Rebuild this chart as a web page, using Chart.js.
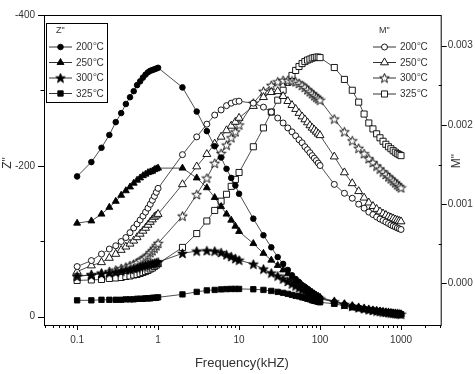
<!DOCTYPE html>
<html>
<head>
<meta charset="utf-8">
<script src="https://cdn.jsdelivr.net/npm/chart.js@4.4.0/dist/chart.umd.min.js"></script>
<style>
  html, body { margin: 0; padding: 0; background: #fff; }
  #wrap { width: 475px; height: 374px; position: relative; }
</style>
</head>
<body>
<div id="wrap"><canvas id="chart"></canvas></div>
<script>
// frequency sweep (kHz)
const freq = [0.1,0.15,0.2,0.25,0.3,0.35,0.4,0.45,0.5,0.55,0.6,0.65,0.7,0.75,0.8,0.85,0.9,0.95,1,
  2,3,4,5,6,7,8,9,10,
  15,20,25,30,35,40,45,50,55,60,65,70,75,80,85,90,95,100,
  150,200,250,300,350,400,450,500,550,600,650,700,750,800,850,900,950,1000];

// Z'' (left axis)
const z200 = [-186,-205,-224,-241,-258,-270,-282,-291,-299,-307,-312,-317,-321,-324,-326,-327,-328,-329,-330,
  -304,-272,-246,-226,-211,-196,-184,-174,-163,
  -130,-108,-92,-79,-70,-62,-55,-50,-46,-42,-39.5,-37,-34,-32,-30,-28,-26,-25,
  -19.7,-16.4,-13.8,-11.8,-10.5,-9.2,-8.6,-7.9,-7.2,-6.6,-6.2,-5.8,-5.3,-5.0,-4.7,-4.5,-4.2,-3.9];
const z250 = [-124,-127,-136,-145,-153,-161,-167,-172,-177,-181,-184,-187,-189,-191,-192,-193,-195,-196,-197,
  -197,-184,-171,-158,-146,-136,-128,-120,-113,
  -97,-84,-75,-68,-62,-57,-52,-48,-45,-41.4,-38.8,-36.2,-34.2,-32.2,-30.3,-28.3,-27,-25.7,
  -20.4,-17.1,-14.5,-12.5,-11.2,-9.9,-8.9,-8.2,-7.5,-6.8,-6.3,-5.8,-5.3,-4.9,-4.5,-4.1,-3.7,-3.3];
const z300 = [-54,-55,-57,-58,-59,-60.5,-62,-62.5,-64,-64.5,-66,-67,-68,-69,-70,-70.4,-71,-71.7,-72.4,
  -84,-87,-87.5,-87,-85,-82,-79.6,-77,-75,
  -69.7,-63.2,-57.9,-53.9,-50,-46.7,-43.4,-40.8,-38.2,-36.2,-34.2,-32.2,-30.3,-28.9,-27.6,-26.3,-25,-23.7,
  -19.7,-16.4,-13.8,-11.8,-10.5,-9.2,-8.3,-7.5,-6.8,-6.2,-5.7,-5.3,-4.9,-4.5,-4.1,-3.8,-3.6,-3.3];
const z325 = [-21.7,-21.7,-22.4,-22.4,-22.4,-22.4,-23,-23,-23,-23.7,-23.7,-23.7,-24.3,-24.3,-24.3,-25,-25,-25,-25.7,
  -29.6,-32.9,-34.9,-35.5,-36.2,-36.6,-36.8,-36.8,-36.8,
  -36.4,-35.5,-34.2,-32.9,-31.6,-30.3,-28.9,-27.6,-27,-25.7,-25,-23.7,-23,-21.7,-21.1,-20.4,-19.7,-19.1,
  -17.1,-14.5,-12.5,-11.2,-9.9,-8.8,-7.9,-7.2,-6.6,-6.1,-5.5,-5.1,-4.7,-4.3,-3.9,-3.7,-3.4,-3.2];

// M'' (right axis)
const m200 = [0.000213,0.000288,0.000371,0.000434,0.000475,0.000529,0.000579,0.000641,0.0007,0.00075,0.0008,0.00085,0.0009,0.00095,0.001,0.00105,0.0011,0.00115,0.0012,
  0.001625,0.00185,0.00201,0.002125,0.00219,0.002244,0.002275,0.002294,0.0023,
  0.002275,0.002225,0.002163,0.002088,0.002025,0.001963,0.001913,0.001863,0.001813,0.001775,0.001725,0.001688,0.00165,0.001613,0.001581,0.00155,0.001519,0.001488,
  0.00125,0.001138,0.001075,0.001,0.00095,0.0009,0.000869,0.000838,0.000813,0.000794,0.000775,0.000756,0.000738,0.000725,0.000713,0.0007,0.00069,0.000681];
const m250 = [0.00015,0.000225,0.000266,0.000321,0.000371,0.000421,0.000463,0.0005,0.000538,0.000581,0.000625,0.000663,0.0007,0.000738,0.000775,0.000806,0.000838,0.000856,0.000875,
  0.00125,0.001475,0.001631,0.001763,0.00185,0.001931,0.001988,0.002038,0.002088,
  0.002238,0.00235,0.002413,0.002425,0.002363,0.0023,0.00225,0.0022,0.00215,0.002106,0.002069,0.002031,0.001994,0.001963,0.001938,0.001913,0.001888,0.001869,
  0.0016,0.0014,0.001263,0.001163,0.001081,0.001019,0.000975,0.000938,0.000906,0.000881,0.000863,0.000844,0.000831,0.000819,0.000806,0.000796,0.000788,0.000781];
const m300 = [0.0000875,0.000113,0.000131,0.00015,0.000169,0.000188,0.000206,0.000225,0.000244,0.000263,0.000288,0.000306,0.000331,0.000356,0.000388,0.000413,0.000444,0.000475,0.000506,
  0.00085,0.001121,0.001329,0.001516,0.001641,0.001746,0.001838,0.001913,0.002,
  0.002275,0.002425,0.0025,0.002544,0.002563,0.002563,0.002556,0.002544,0.002525,0.0025,0.002475,0.002444,0.002419,0.002394,0.002369,0.00235,0.002331,0.002313,
  0.002075,0.001913,0.0018,0.001706,0.001638,0.001575,0.001525,0.001481,0.001444,0.001406,0.001375,0.001344,0.001319,0.001294,0.001269,0.001244,0.001225,0.001206];
const m325 = [0.0000375,0.0000438,0.00005,0.0000625,0.0000688,0.000075,0.0000875,0.0000938,0.000106,0.000113,0.000125,0.000138,0.00015,0.000163,0.000181,0.000194,0.000213,0.000231,0.00025,
  0.000454,0.000629,0.000788,0.000921,0.001038,0.001125,0.001225,0.001313,0.0014,
  0.001725,0.001963,0.002163,0.002313,0.002438,0.002538,0.002625,0.002688,0.002738,0.002775,0.0028,0.002819,0.002831,0.002844,0.00285,0.002856,0.002856,0.00285,
  0.002725,0.002575,0.002438,0.002288,0.002138,0.002025,0.00195,0.001888,0.001838,0.001794,0.001756,0.001725,0.0017,0.001675,0.001656,0.001638,0.001625,0.001613];

const tempLabels = ["200", "250", "300", "325"];

// axis ticks
const xTicks = [0.1, 1, 10, 100, 1000];
const xTickLabels = ["0.1", "1", "10", "100", "1000"];
const xMinor = [0.04,0.05,0.06,0.07,0.08,0.09, 0.2,0.3,0.4,0.5,0.6,0.7,0.8,0.9,
  2,3,4,5,6,7,8,9, 20,30,40,50,60,70,80,90, 200,300,400,500,600,700,800,900, 2000,3000];
const yTicks = [-400, -200, 0];
const yTickLabels = ["-400", "-200", "0"];
const yMinor = [-300, -100];
const y1Ticks = [0, 0.001, 0.002, 0.003];
const y1TickLabels = ["0.000", "0.001", "0.002", "0.003"];
const y1Minor = [0.0005, 0.0015, 0.0025];

const FONT = "'Liberation Sans', Arial, sans-serif";
const TXT = "#333";
const LINE = "#222";

function makeStar(filled) {
  const c = document.createElement("canvas");
  c.width = 11; c.height = 11;
  const g = c.getContext("2d");
  g.beginPath();
  for (let i = 0; i < 10; i++) {
    const r = i % 2 ? 2.1 : 5;
    const a = -Math.PI / 2 + i * Math.PI / 5;
    g.lineTo(5.5 + r * Math.cos(a), 5.9 + r * Math.sin(a));
  }
  g.closePath();
  g.fillStyle = filled ? "#000" : "#fff";
  g.fill();
  g.lineWidth = 0.9;
  g.strokeStyle = "#000";
  g.stroke();
  return c;
}
const starFilled = makeStar(true);
const starOpen = makeStar(false);

function series(vals, axis, style, radius, filled) {
  return {
    data: freq.map((f, i) => ({ x: f, y: vals[i] })),
    yAxisID: axis,
    borderColor: LINE,
    borderWidth: 0.8,
    pointStyle: style,
    pointRadius: radius,
    pointBorderWidth: 0.9,
    pointBorderColor: "#000",
    pointBackgroundColor: filled ? "#000" : "#fff",
    tension: 0,
    _filled: filled,
  };
}

const zSets = [
  series(z200, "y", "circle", 2.8, true),
  series(z250, "y", "triangle", 4, true),
  series(z300, "y", starFilled, 4, true),
  series(z325, "y", "rect", 3.8, true),
];
const mSets = [
  series(m200, "y1", "circle", 3, false),
  series(m250, "y1", "triangle", 4.6, false),
  series(m300, "y1", starOpen, 4, false),
  series(m325, "y1", "rect", 4.3, false),
];

function marker(ctx, ds, x, y) {
  const st = ds.pointStyle, r = ds.pointRadius;
  if (st instanceof HTMLCanvasElement) {
    ctx.drawImage(st, x - st.width / 2, y - st.height / 2);
    return;
  }
  ctx.beginPath();
  if (st === "circle") {
    ctx.arc(x, y, r, 0, Math.PI * 2);
  } else if (st === "triangle") {
    for (let k = 0; k < 3; k++) {
      const a = k * 2 * Math.PI / 3;
      ctx.lineTo(x + Math.sin(a) * r, y - Math.cos(a) * r);
    }
    ctx.closePath();
  } else {
    const s = r * Math.SQRT1_2;
    ctx.rect(x - s, y - s, 2 * s, 2 * s);
  }
  ctx.fillStyle = ds._filled ? "#000" : "#fff";
  ctx.fill();
  ctx.lineWidth = 0.9;
  ctx.strokeStyle = "#000";
  ctx.stroke();
}

function tempText(ctx, t, x, y) {
  ctx.font = "10px " + FONT;
  ctx.fillText(t, x, y);
  let w = ctx.measureText(t).width;
  ctx.font = "6px " + FONT;
  ctx.fillText("o", x + w + 0.5, y - 4);
  w += ctx.measureText("o").width + 0.5;
  ctx.font = "10px " + FONT;
  ctx.fillText("C", x + w, y);
}

function legendBlock(ctx, title, sets, x0, titleX, rows) {
  ctx.fillStyle = TXT;
  ctx.textBaseline = "middle";
  ctx.textAlign = "left";
  ctx.font = "9px " + FONT;
  ctx.fillText(title, titleX, 31);
  sets.forEach((ds, i) => {
    const y = rows[i];
    ctx.strokeStyle = "#333";
    ctx.lineWidth = 1;
    ctx.beginPath();
    ctx.moveTo(x0, y); ctx.lineTo(x0 + 23, y);
    ctx.stroke();
    marker(ctx, ds, x0 + 11.5, y);
    ctx.fillStyle = TXT;
    tempText(ctx, tempLabels[i], x0 + 27, y + 0.5);
  });
}

const decor = {
  id: "decor",
  afterDraw(chart) {
    const ctx = chart.ctx, a = chart.chartArea;
    const sx = chart.scales.x, sy = chart.scales.y, sy1 = chart.scales.y1;
    ctx.save();
    ctx.strokeStyle = "#000";
    ctx.lineWidth = 1;
    ctx.strokeRect(a.left + 0.5, a.top + 0.5, a.right - a.left - 1, a.bottom - a.top);
    ctx.beginPath();
    xTicks.forEach(v => { const p = Math.round(sx.getPixelForValue(v)) + 0.5; ctx.moveTo(p, a.bottom); ctx.lineTo(p, a.bottom + 5); });
    xMinor.forEach(v => { const p = Math.round(sx.getPixelForValue(v)) + 0.5; ctx.moveTo(p, a.bottom); ctx.lineTo(p, a.bottom + 3); });
    yTicks.forEach(v => { const p = Math.round(sy.getPixelForValue(v)) + 0.5; ctx.moveTo(a.left, p); ctx.lineTo(a.left - 6, p); });
    yMinor.forEach(v => { const p = Math.round(sy.getPixelForValue(v)) + 0.5; ctx.moveTo(a.left, p); ctx.lineTo(a.left - 3.5, p); });
    y1Ticks.forEach(v => { const p = Math.round(sy1.getPixelForValue(v)) + 0.5; ctx.moveTo(a.right, p); ctx.lineTo(a.right + 5, p); });
    y1Minor.forEach(v => { const p = Math.round(sy1.getPixelForValue(v)) + 0.5; ctx.moveTo(a.right - 3, p); ctx.lineTo(a.right, p); });
    ctx.stroke();

    // axis titles
    ctx.fillStyle = TXT;
    ctx.textAlign = "center";
    ctx.textBaseline = "middle";
    ctx.font = "13px " + FONT;
    ctx.fillText("Frequency(kHZ)", (a.left + a.right) / 2 - 1, a.bottom + 38);
    ctx.font = "12px " + FONT;
    ctx.save();
    ctx.translate(8, 163);
    ctx.rotate(-Math.PI / 2);
    ctx.fillText('Z"', 0, 0);
    ctx.restore();
    ctx.save();
    ctx.translate(457, 161);
    ctx.rotate(-Math.PI / 2);
    ctx.fillText('M"', 0, 0);
    ctx.restore();

    // legends
    ctx.strokeStyle = "#000";
    ctx.lineWidth = 1;
    ctx.strokeRect(46.5, 23.5, 61, 79);
    legendBlock(ctx, 'Z"', zSets, 49, 56, [47, 62.5, 78, 93.5]);
    legendBlock(ctx, 'M"', mSets, 373, 379, [47, 62.5, 78, 94]);
    ctx.restore();
  }
};

new Chart(document.getElementById("chart"), {
  type: "line",
  data: { datasets: [...zSets, ...mSets] },
  options: {
    responsive: true,
    maintainAspectRatio: false,
    animation: false,
    devicePixelRatio: 1,
    layout: { padding: { top: 12, left: 0, right: 0, bottom: 0 } },
    plugins: { legend: { display: false }, tooltip: { enabled: false } },
    scales: {
      x: {
        type: "logarithmic",
        min: 0.039,
        max: 3180,
        grid: { display: false, drawTicks: false },
        border: { display: false },
        afterBuildTicks: s => { s.ticks = xTicks.map(v => ({ value: v })); },
        afterFit: s => { s.height = 49; },
        ticks: {
          autoSkip: false, maxRotation: 0, padding: 9, color: TXT,
          font: { family: FONT, size: 10 },
          callback: v => { const i = xTicks.indexOf(v); return i < 0 ? "" : xTickLabels[i]; },
        },
      },
      y: {
        type: "linear",
        position: "left",
        reverse: true,
        min: -400,
        max: 11,
        grid: { display: false, drawTicks: false },
        border: { display: false },
        afterBuildTicks: s => { s.ticks = yTicks.map(v => ({ value: v })); },
        afterFit: s => { s.width = 44; },
        ticks: {
          padding: 9, color: TXT, font: { family: FONT, size: 10 },
          callback: v => { const i = yTicks.indexOf(v); return i < 0 ? "" : yTickLabels[i]; },
        },
      },
      y1: {
        type: "linear",
        position: "right",
        min: -0.000525,
        max: 0.003388,
        grid: { display: false, drawTicks: false },
        border: { display: false },
        afterBuildTicks: s => { s.ticks = y1Ticks.map(v => ({ value: v })); },
        afterFit: s => { s.width = 33.3; },
        ticks: {
          padding: 6, color: TXT, font: { family: FONT, size: 10 },
          callback: v => { const i = y1Ticks.indexOf(v); return i < 0 ? "" : y1TickLabels[i]; },
        },
      },
    },
  },
  plugins: [decor],
});
</script>
</body>
</html>
